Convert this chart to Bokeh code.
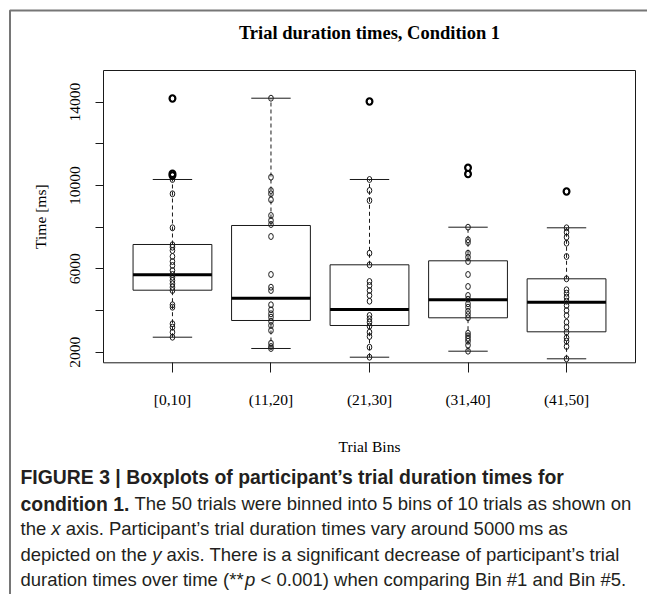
import math
from bokeh.plotting import figure
from bokeh.models import (Label, BoxAnnotation, PolyAnnotation, FixedTicker, Range1d,
                          ColumnDataSource, LinearAxis)
from bokeh.embed import file_html
from bokeh.resources import INLINE

# ---------------- data ----------------
bins = ["[0,10]", "(11,20]", "(21,30]", "(31,40]", "(41,50]"]
bin_pos = [1, 2, 3, 4, 5]

q1 = [4976, 3522, 3282, 3651, 2979]
median = [5715, 4592, 4050, 4515, 4400]
q3 = [7170, 8082, 6195, 6387, 5523]
whisker_low = [2720, 2178, 1760, 2048, 1683]
whisker_high = [10290, 14192, 10290, 8000, 7971]

points_bin1 = [14178, 10563, 10482, 10290, 9603, 7971, 7155, 7040, 6882, 6594, 6354, 6162,
               5922, 5730, 5600, 5442, 5283, 5120, 4962, 4275, 4160, 3363, 3200, 2960, 2720]
points_bin2 = [14192, 10400, 9762, 9603, 9315, 8562, 8322, 8130, 7554, 5730, 5120, 4962,
               4275, 4035, 3843, 3680, 3488, 3282, 3042, 2432, 2274, 2178]
points_bin3 = [14034, 10290, 9762, 9282, 6752, 6195, 5394, 5202, 4962, 4722, 4448, 3762,
               3603, 3440, 3248, 2960, 2754, 2240, 1760]
points_bin4 = [10850, 10550, 8000, 7395, 7266, 6752, 6560, 6354, 5730, 5154, 4722, 4544,
               4323, 4160, 3968, 3810, 3651, 2912, 2787, 2658, 2528, 2336, 2048]
points_bin5 = [9714, 7971, 7760, 7520, 7232, 6594, 5523, 4995, 4832, 4640, 4448, 4242,
               4002, 3762, 3440, 3200, 2960, 2691, 2528, 2274, 1683]

outlier_bin = [1, 1, 1, 3, 4, 4, 5]
outlier_val = [14178, 10563, 10482, 14034, 10850, 10550, 9714]

y_ticks = [2000, 4000, 6000, 8000, 10000, 12000, 14000]
y_tick_labels = ["2000", "", "6000", "", "10000", "", "14000"]

title_text = "Trial duration times, Condition 1"
x_label = "Trial Bins"
y_label = "Time [ms]"

caption_lines = [
    [("FIGURE 3 | Boxplots of participant\u2019s trial duration times for", "bold")],
    [("condition 1.", "bold"),
     ("The 50 trials were binned into 5 bins of 10 trials as shown on", "normal")],
    [("the", "normal"), ("x", "italic"),
     ("axis. Participant\u2019s trial duration times vary around 5000\u2009ms as", "normal")],
    [("depicted on the", "normal"), ("y", "italic"),
     ("axis. There is a significant decrease of participant\u2019s trial", "normal")],
    [("duration times over time (**", "normal"), ("p", "italic"),
     ("< 0.001) when comparing Bin #1 and Bin #5.", "normal")],
]

# ---------------- layout geometry (pixels) ----------------
W, H = 647, 594
BOX_L, BOX_R, BOX_T, BOX_B = 103.0, 635.0, 70.0, 362.3   # plot box on the canvas
X_LO, X_HI = 0.3, 5.7          # plot box limits in data units
Y_LO, Y_HI = 1491.0, 15522.0

ux = (X_HI - X_LO) / (BOX_R - BOX_L)
uy = (Y_HI - Y_LO) / (BOX_B - BOX_T)
x_start, x_end = X_LO - BOX_L * ux, X_HI + (W - BOX_R) * ux
y_start, y_end = Y_LO - (H - BOX_B) * uy, Y_HI + BOX_T * uy

SERIF = "Liberation Serif"
SANS = "Liberation Sans"
BOX_HALF = 0.4
CAP_HALF = 0.2
INK = "#1a1a1a"

p = figure(width=W, height=H,
           x_range=Range1d(x_start, x_end), y_range=Range1d(y_start, y_end),
           output_backend="svg", toolbar_location=None,
           x_axis_location=None, y_axis_location=None,
           min_border=0, min_border_left=0, min_border_right=0,
           min_border_top=0, min_border_bottom=0)
p.grid.visible = False
p.background_fill_color = "white"
p.border_fill_color = "white"
p.outline_line_color = None

# axes placed on the plot-box edges
xaxis = LinearAxis(fixed_location=Y_LO, ticker=FixedTicker(ticks=bin_pos),
                   major_label_overrides={k: v for k, v in zip(bin_pos, bins)})
yaxis = LinearAxis(fixed_location=X_LO, ticker=FixedTicker(ticks=y_ticks),
                   major_label_overrides={k: v for k, v in zip(y_ticks, y_tick_labels)},
                   major_label_orientation="vertical")
for ax in (xaxis, yaxis):
    ax.axis_line_color = None
    ax.minor_tick_line_color = None
    ax.major_tick_in = 0
    ax.major_tick_line_color = INK
    ax.major_label_text_font = SERIF
    ax.major_label_text_font_size = "15.5px"
    ax.major_label_text_color = "black"
xaxis.major_tick_out = 10
yaxis.major_tick_out = 8
xaxis.major_label_standoff = 18
yaxis.major_label_standoff = 15
p.add_layout(xaxis, "below")
p.add_layout(yaxis, "left")

# plot box
p.add_layout(BoxAnnotation(left=X_LO, right=X_HI, bottom=Y_LO, top=Y_HI,
                           fill_color=None, fill_alpha=0, line_color=INK,
                           line_width=1, line_alpha=1, level="underlay"))

# outer panel frame (only its top and left edges fall on the canvas)
fx0 = x_start + 9.5 * ux
fy0 = y_end - 10 * uy
far_x = x_end + 50 * ux
far_y = y_start - 50 * uy
p.add_layout(PolyAnnotation(xs=[fx0, fx0, far_x, far_x], ys=[fy0, far_y, far_y, fy0],
                            fill_color=None, fill_alpha=0, line_color="#767676",
                            line_width=2, line_alpha=1, level="underlay"))

# boxes
box_src = ColumnDataSource(dict(
    x=bin_pos, q1=q1, q3=q3, med=median, lo=whisker_low, hi=whisker_high,
    xl=[x - BOX_HALF for x in bin_pos], xr=[x + BOX_HALF for x in bin_pos],
    cl=[x - CAP_HALF for x in bin_pos], cr=[x + CAP_HALF for x in bin_pos],
))
p.segment(x0="x", x1="x", y0="q3", y1="hi", source=box_src,
          line_color=INK, line_width=1, line_dash="4 3")
p.segment(x0="x", x1="x", y0="lo", y1="q1", source=box_src,
          line_color=INK, line_width=1, line_dash="4 3")
p.segment(x0="cl", x1="cr", y0="hi", y1="hi", source=box_src, line_color=INK, line_width=1)
p.segment(x0="cl", x1="cr", y0="lo", y1="lo", source=box_src, line_color=INK, line_width=1)
p.vbar(x="x", width=2 * BOX_HALF, bottom="q1", top="q3", source=box_src,
       fill_color="white", line_color=INK, line_width=1)
p.segment(x0="xl", x1="xr", y0="med", y1="med", source=box_src,
          line_color="black", line_width=3)

# data points
all_bins = [points_bin1, points_bin2, points_bin3, points_bin4, points_bin5]
px, py = [], []
for b, vals in zip(bin_pos, all_bins):
    px += [b] * len(vals)
    py += vals
p.ellipse(x=px, y=py, width=4.6, height=6.0, width_units="screen", height_units="screen",
          fill_color=None, line_color=INK, line_width=1)
p.ellipse(x=outlier_bin, y=outlier_val, width=6, height=6.5, width_units="screen",
          height_units="screen", fill_color=None, line_color="black", line_width=2)

# texts (screen units: x from left, y up from bottom); positioned by their vertical middle
def lab(text, x, y_mid, **kw):
    p.add_layout(Label(x=x, y=H - y_mid, x_units="screen", y_units="screen", text=text,
                       text_baseline="middle", **kw))

lab(title_text, (BOX_L + BOX_R) / 2, 32.8, text_font=SERIF, text_font_size="18.5px",
    text_font_style="bold", text_color="black", text_align="center")
lab(x_label, (BOX_L + BOX_R) / 2, 445.8, text_font=SERIF, text_font_size="15.5px",
    text_color="black", text_align="center")
lab(y_label, 40, (BOX_T + BOX_B) / 2, text_font=SERIF, text_font_size="15.5px",
    text_color="black", text_align="center", angle=math.pi / 2)

# caption
CAP_X = 20
CAP_MID = [476.7, 503.3, 528.4, 553.5, 578.5]
FS_BOLD = 19.4
FS_REG = 18.5
SP = 0.278 * FS_REG
# horizontal starts of the segments of each line (advance widths of the text before them)
seg_offsets = [
    [0],
    [0, 5.612 * FS_BOLD + SP],
    [0, 1.668 * FS_REG, 1.668 * FS_REG + 0.5 * FS_REG + SP],
    [0, 7.116 * FS_REG, 7.116 * FS_REG + 0.5 * FS_REG + SP],
    [0, 12.059 * FS_REG + 1.5, 12.059 * FS_REG + 1.5 + 0.556 * FS_REG + SP],
]
for segs, offs, mid in zip(caption_lines, seg_offsets, CAP_MID):
    for (txt, style), dx in zip(segs, offs):
        fs = FS_BOLD if style == "bold" else FS_REG
        lab(txt, CAP_X + dx, mid, text_font=SANS, text_font_size=f"{fs}px",
            text_font_style=style, text_color="#231f20", text_align="left")

open("out.html", "w").write(file_html(p, INLINE))
